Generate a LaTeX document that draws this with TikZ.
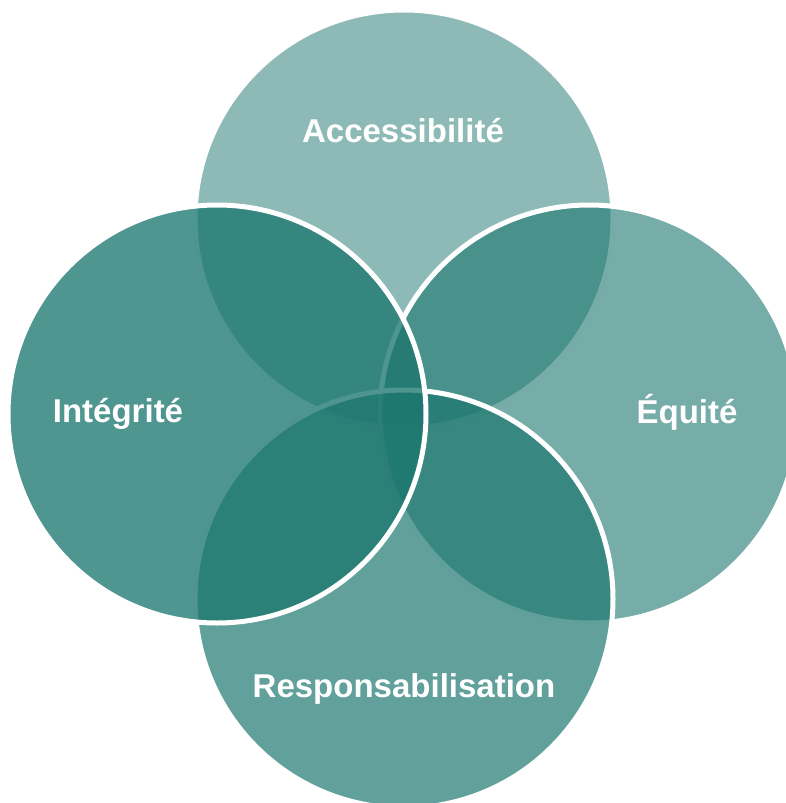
\documentclass[tikz,border=0pt]{standalone}
\usepackage{fontspec}
\setmainfont{Liberation Sans}
\begin{document}
\begin{tikzpicture}[x=1pt,y=-1pt,
  venn/.style={circle, minimum size=418pt, inner sep=0pt, outer sep=0pt,
    fill=vteal, draw=white, line width=5pt, draw opacity=1},
  vlabel/.style={text=white, font=\bfseries\fontsize{33}{33}\selectfont,
    anchor=base, inner sep=0pt}]
  \definecolor{vteal}{HTML}{1B766E}
  \useasboundingbox (0,0) rectangle (785,803);
  % circles, back to front
  \node[venn, fill opacity=0.50] (acc) at (404,219) {};
  \node[venn, fill opacity=0.60] (equ) at (589,414) {};
  \node[venn, fill opacity=0.69] (res) at (404,599) {};
  \node[venn, fill opacity=0.77] (int) at (217,414) {};
  % labels
  \node[vlabel] (tacc) at (403,142) {Accessibilité};
  \node[vlabel] (tequ) at (687,423) {Équité};
  \node[vlabel] (tres) at (404,697) {Responsabilisation};
  \node[vlabel] (tint) at (118,422) {Intégrité};
\end{tikzpicture}
\end{document}
